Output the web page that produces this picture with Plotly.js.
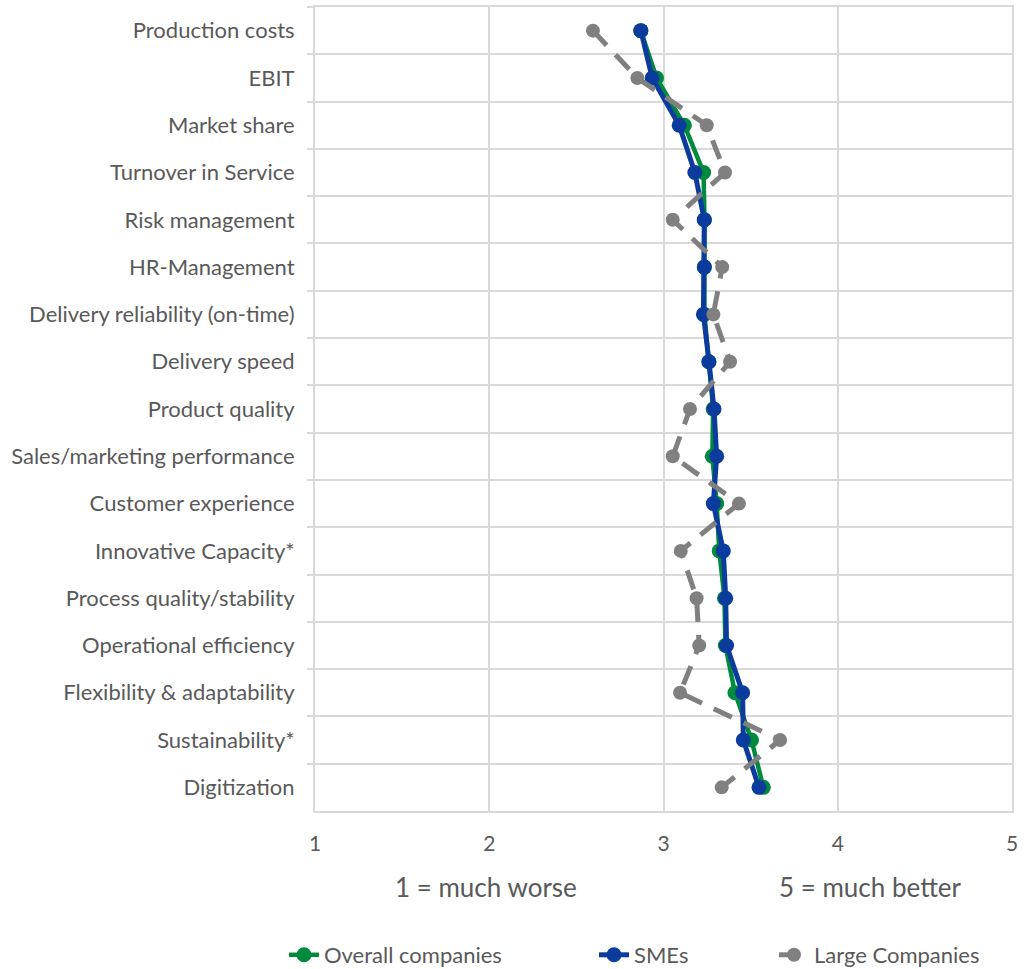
<!DOCTYPE html>
<html>
<head>
<meta charset="utf-8">
<script src="https://cdn.plot.ly/plotly-3.0.1.min.js"></script>
<style>
html,body{margin:0;padding:0;background:#fff;}
#chart{width:1025px;height:969px;}
</style>
</head>
<body>
<div id="chart"></div>
<script>
const categories = [
  "Production costs","EBIT","Market share","Turnover in Service","Risk management",
  "HR-Management","Delivery reliability (on-time)","Delivery speed","Product quality",
  "Sales/marketing performance","Customer experience","Innovative Capacity*",
  "Process quality/stability","Operational efficiency","Flexibility & adaptability",
  "Sustainability*","Digitization"
];
const overall = [2.87,2.96,3.12,3.23,3.235,3.235,3.235,3.26,3.285,3.28,3.305,3.32,3.35,3.355,3.41,3.505,3.573];
const smes    = [2.87,2.935,3.09,3.18,3.234,3.234,3.229,3.261,3.29,3.305,3.286,3.343,3.357,3.362,3.454,3.458,3.548];
const large   = [2.595,2.85,3.248,3.353,3.053,3.337,3.286,3.382,3.152,3.053,3.433,3.099,3.19,3.205,3.095,3.669,3.334];
const xTicks = [1,2,3,4,5];
const seriesNames = ["Overall companies","SMEs","Large Companies"];
const noteLeft = "1 = much worse";
const noteRight = "5 = much better";

const FONT = "Lato, 'Open Sans', sans-serif";
const TXT = "#595959";

const traces = [
  {x: overall, y: categories, name: seriesNames[0], type: "scatter", mode: "lines+markers", legend: "legend",
   line: {color: "#008a3e", width: 4.5}, marker: {color: "#008a3e", size: 15}},
  {x: smes, y: categories, name: seriesNames[1], type: "scatter", mode: "lines+markers", legend: "legend2",
   line: {color: "#0b3c9d", width: 5}, marker: {color: "#0b3c9d", size: 15}},
  {x: large, y: categories, name: seriesNames[2], type: "scatter", mode: "lines+markers", legend: "legend3",
   line: {color: "#808080", width: 5, dash: "20px,13px"}, marker: {color: "#808080", size: 14}}
];

function leg(xpx) {
  return {
    orientation: "h", x: xpx / 1025, xanchor: "left", xref: "container",
    y: 14 / 969, yanchor: "middle", yref: "container",
    font: {family: FONT, size: 22, color: TXT},
    bgcolor: "rgba(0,0,0,0)", itemwidth: 30
  };
}

const layout = {
  width: 1025, height: 969,
  margin: {l: 315, r: 13, t: 7, b: 158},
  paper_bgcolor: "#ffffff", plot_bgcolor: "#ffffff",
  font: {family: FONT, size: 22, color: TXT},
  showlegend: true,
  hovermode: false,
  xaxis: {
    range: [1, 5], tickvals: xTicks, ticktext: xTicks.map(String),
    showgrid: true, gridcolor: "#d9d9d9", gridwidth: 2,
    zeroline: false, showline: true, linecolor: "#d9d9d9", linewidth: 2, mirror: true,
    ticks: "", ticklabelstandoff: 13,
    tickfont: {family: FONT, size: 21, color: TXT}
  },
  yaxis: {
    type: "category", categoryorder: "array", categoryarray: categories,
    autorange: false, range: [16.5, -0.5],
    tickson: "boundaries", ticks: "outside", ticklen: 6, tickcolor: "#d9d9d9", tickwidth: 2,
    showgrid: true, gridcolor: "#d9d9d9", gridwidth: 2,
    zeroline: false, showline: true, linecolor: "#d9d9d9", linewidth: 2, mirror: true,
    ticklabelstandoff: 14,
    tickfont: {family: FONT, size: 22, color: TXT}
  },
  legend: leg(284),
  legend2: leg(594),
  legend3: leg(774),
  annotations: [
    {text: noteLeft, xref: "paper", yref: "paper", x: 0.245, y: -0.094, xanchor: "center", yanchor: "middle",
     showarrow: false, font: {family: FONT, size: 26, color: TXT}},
    {text: noteRight, xref: "paper", yref: "paper", x: 0.797, y: -0.094, xanchor: "center", yanchor: "middle",
     showarrow: false, font: {family: FONT, size: 26, color: TXT}}
  ]
};

Plotly.newPlot("chart", traces, layout, {displayModeBar: false, staticPlot: true});
</script>
</body>
</html>
